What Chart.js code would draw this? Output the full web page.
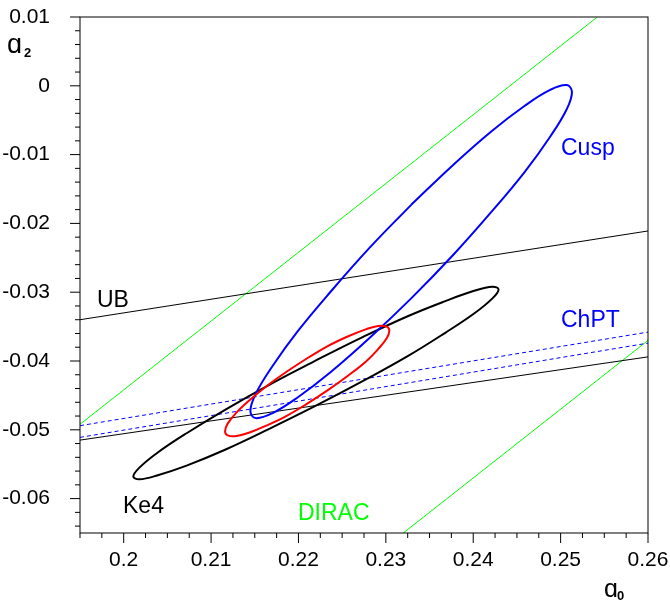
<!DOCTYPE html>
<html><head><meta charset="utf-8">
<script src="https://cdn.jsdelivr.net/npm/chart.js@4"></script>
<style>html,body{margin:0;padding:0;background:#fff;overflow:hidden}#wrap{width:670px;height:601px}</style>
</head><body><div id="wrap"><canvas id="c" width="670" height="601"></canvas></div>
<script>
// ---- tick values / labels ----
const xTicks = [0.20, 0.21, 0.22, 0.23, 0.24, 0.25, 0.26];
const xTickLabels = ['0.2', '0.21', '0.22', '0.23', '0.24', '0.25', '0.26'];
const yTicks = [-0.06, -0.05, -0.04, -0.03, -0.02, -0.01, 0, 0.01];
const yTickLabels = ['-0.06', '-0.05', '-0.04', '-0.03', '-0.02', '-0.01', '0', '0.01'];

// ---- Ke4 contour (black) ----
const ke4X = [0.2220,0.2166,0.2116,0.2072,0.2039,0.2018,0.2011,0.2018,0.2039,0.2072,0.2116,0.2166,0.2220,0.2274,0.2325,0.2368,0.2401,0.2422,0.2429,0.2422,0.2401,0.2368,0.2325,0.2274,0.2220];
const ke4Y = [-0.0399,-0.0435,-0.0471,-0.0505,-0.0533,-0.0555,-0.0568,-0.0572,-0.0566,-0.0552,-0.0529,-0.0499,-0.0465,-0.0429,-0.0393,-0.0359,-0.0331,-0.0309,-0.0296,-0.0292,-0.0298,-0.0313,-0.0335,-0.0365,-0.0399];

// ---- Cusp contour (blue) ----
const cuspX = [0.2329,0.2281,0.2237,0.2199,0.2170,0.2151,0.2145,0.2151,0.2170,0.2199,0.2237,0.2281,0.2329,0.2377,0.2421,0.2459,0.2488,0.2507,0.2513,0.2507,0.2488,0.2459,0.2421,0.2377,0.2329];
const cuspY = [-0.0173,-0.0236,-0.0299,-0.0357,-0.0408,-0.0448,-0.0473,-0.0483,-0.0476,-0.0453,-0.0416,-0.0367,-0.0309,-0.0246,-0.0183,-0.0125,-0.0074,-0.0034,-0.0009,0.0001,-0.0006,-0.0029,-0.0066,-0.0115,-0.0173];

// ---- combined contour (red) ----
const combX = [0.2210,0.2186,0.2163,0.2144,0.2129,0.2119,0.2116,0.2119,0.2129,0.2144,0.2163,0.2186,0.2210,0.2234,0.2257,0.2277,0.2291,0.2301,0.2304,0.2301,0.2291,0.2277,0.2257,0.2234,0.2210];
const combY = [-0.0396,-0.0416,-0.0437,-0.0457,-0.0475,-0.0491,-0.0502,-0.0508,-0.0509,-0.0504,-0.0494,-0.0480,-0.0462,-0.0442,-0.0421,-0.0401,-0.0383,-0.0367,-0.0356,-0.0350,-0.0349,-0.0354,-0.0364,-0.0378,-0.0396];

// ---- straight bands ----
const bandX = [0.195, 0.26];
const ubUpperY = [-0.0340, -0.0211];
const ubLowerY = [-0.0515, -0.0394];
const chptUpperY = [-0.0494, -0.0358];
const chptLowerY = [-0.0511, -0.0374];
const diracUpperX = [0.195, 0.2542];
const diracUpperY = [-0.0492, 0.0100];
const diracLowerX = [0.2320, 0.2600];
const diracLowerY = [-0.0650, -0.0370];

const pts = (xs, ys) => xs.map((v, i) => ({x: v, y: ys[i]}));
const FONT = '"Liberation Sans", Arial, Helvetica, sans-serif';

function ds(data, color, width, extra) {
  return Object.assign({data, borderColor: color, borderWidth: width, showLine: true,
    pointRadius: 0, pointHoverRadius: 0, fill: false, tension: 0}, extra || {});
}

const decor = {
  id: 'decor',
  afterDraw(chart) {
    const {ctx, chartArea: a, scales: {x, y}} = chart;
    ctx.save();
    ctx.strokeStyle = '#000';
    ctx.lineWidth = 1;
    ctx.strokeRect(a.left, a.top, a.right - a.left, a.bottom - a.top);
    ctx.beginPath();
    for (let v = 0.195; v <= 0.26 + 1e-9; v += 0.0025) {
      const px = x.getPixelForValue(v);
      const major = xTicks.some(t => Math.abs(t - v) < 1e-7);
      ctx.moveTo(px, a.bottom); ctx.lineTo(px, a.bottom + (major ? 10 : 5));
    }
    for (let v = 0.01; v >= -0.065 - 1e-9; v -= 0.002) {
      const py = y.getPixelForValue(v);
      const major = yTicks.some(t => Math.abs(t - v) < 1e-7);
      ctx.moveTo(a.left, py); ctx.lineTo(a.left - (major ? 10 : 5), py);
    }
    ctx.stroke();

    ctx.textBaseline = 'alphabetic';
    ctx.textAlign = 'left';
    ctx.font = '23px ' + FONT;
    ctx.fillStyle = '#0000ff';
    ctx.fillText('Cusp', 561, 155);
    ctx.fillText('ChPT', 561, 327);
    ctx.fillStyle = '#000';
    ctx.fillText('UB', 97, 307);
    ctx.fillText('Ke4', 123, 513);
    ctx.fillStyle = '#00ff00';
    ctx.fillText('DIRAC', 298, 520);

    ctx.fillStyle = '#000';
    ctx.font = '25px ' + FONT;
    ctx.fillText('\u0251', 604, 597);
    ctx.font = '27px ' + FONT;
    ctx.fillText('\u0251', 7, 53);
    ctx.font = 'bold 13px ' + FONT;
    ctx.fillText('0', 617, 600);
    ctx.fillText('2', 24, 57);
    ctx.restore();
  }
};

function noPad(s) { s.paddingTop = 0; s.paddingBottom = 0; s.paddingLeft = 0; s.paddingRight = 0; }

const chart = new Chart(document.getElementById('c'), {
  type: 'scatter',
  data: {
    datasets: [
      ds(pts(combX, combY), '#ff0000', 2, {tension: 0.4}),
      ds(pts(cuspX, cuspY), '#0000ff', 2, {tension: 0.4}),
      ds(pts(ke4X, ke4Y), '#000000', 2, {tension: 0.4}),
      ds(pts(bandX, ubUpperY), '#000000', 1),
      ds(pts(bandX, ubLowerY), '#000000', 1),
      ds(pts(bandX, chptUpperY), '#0000ff', 1, {borderDash: [4, 3]}),
      ds(pts(bandX, chptLowerY), '#0000ff', 1, {borderDash: [4, 3]}),
      ds(pts(diracUpperX, diracUpperY), '#00ff00', 1),
      ds(pts(diracLowerX, diracLowerY), '#00ff00', 1)
    ]
  },
  options: {
    responsive: false,
    animation: false,
    events: [],
    layout: {padding: {left: 0, top: 17, right: 22, bottom: 0}},
    plugins: {legend: {display: false}, tooltip: {enabled: false}, title: {display: false}},
    scales: {
      x: {
        type: 'linear', min: 0.195, max: 0.26,
        grid: {display: false}, border: {display: false},
        afterBuildTicks: s => { s.ticks = xTicks.map(v => ({value: v})); },
        afterFit: s => { s.height = 68; noPad(s); },
        ticks: {
          color: '#000', font: {family: FONT, size: 21}, padding: 7, maxRotation: 0, autoSkip: false,
          callback: (v) => { const i = xTicks.findIndex(t => Math.abs(t - v) < 1e-7); return i >= 0 ? xTickLabels[i] : ''; }
        }
      },
      y: {
        type: 'linear', min: -0.065, max: 0.01,
        grid: {display: false}, border: {display: false},
        afterBuildTicks: s => { s.ticks = yTicks.map(v => ({value: v})); },
        afterFit: s => { s.width = 80; noPad(s); },
        ticks: {
          color: '#000', font: {family: FONT, size: 21}, padding: 22, autoSkip: false,
          callback: (v) => { const i = yTicks.findIndex(t => Math.abs(t - v) < 1e-7); return i >= 0 ? yTickLabels[i] : ''; }
        }
      }
    }
  },
  plugins: [decor]
});
// safety: bring the plot frame to the reference position (top 17, right 648)
const pad = chart.options.layout.padding;
const dTop = 17 - chart.chartArea.top, dRight = chart.chartArea.right - 648;
if (Math.abs(dTop) > 0.5 || Math.abs(dRight) > 0.5) {
  pad.top += dTop; pad.right += dRight; chart.update();
}
</script>
</body></html>
